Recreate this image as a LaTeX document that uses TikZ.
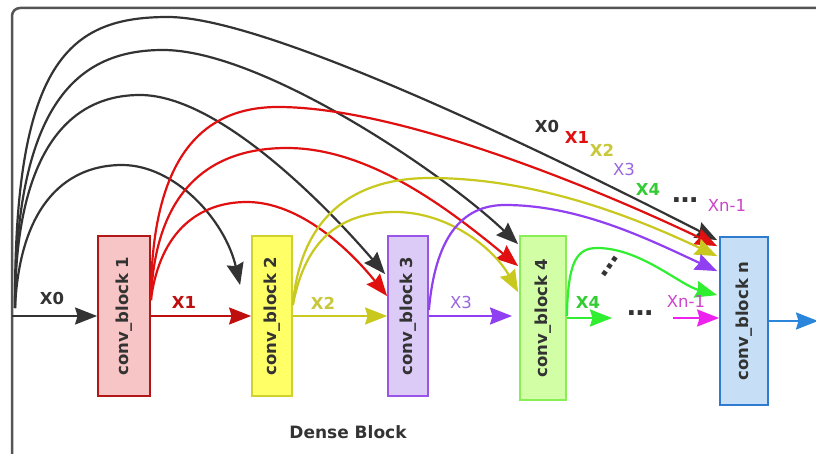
\documentclass[tikz,border=0pt]{standalone}
\usepackage{fontspec}
\setmainfont{DejaVu Sans}
\usetikzlibrary{arrows.meta}

% palette
\definecolor{ink}{HTML}{333333}
\definecolor{framegray}{HTML}{555555}
\definecolor{redln}{HTML}{E01010}
\definecolor{yelln}{HTML}{C8C81E}
\definecolor{purln}{HTML}{9040F0}
\definecolor{grnln}{HTML}{30EE30}
\definecolor{magln}{HTML}{EE22EE}
\definecolor{blueln}{HTML}{2A86DA}
\definecolor{fillA}{HTML}{F7C5C5}\definecolor{lineA}{HTML}{B01818}
\definecolor{fillB}{HTML}{FFFF66}\definecolor{lineB}{HTML}{D0D030}
\definecolor{fillC}{HTML}{DCCBF7}\definecolor{lineC}{HTML}{9955E8}
\definecolor{fillD}{HTML}{D2FFA6}\definecolor{lineD}{HTML}{88EE55}
\definecolor{fillE}{HTML}{C6DFF7}\definecolor{lineE}{HTML}{2E7BCF}
\definecolor{lblX2}{HTML}{C8C83A}
\definecolor{lblX3}{HTML}{9966E0}
\definecolor{lblX4}{HTML}{33CC33}
\definecolor{lblXn}{HTML}{CC44CC}

\begin{document}
\begin{tikzpicture}[x=1pt,y=-1pt,
  blockbox/.style={draw, line width=1.8pt, inner sep=0pt},
  blocktext/.style={rotate=90, text=ink, inner sep=0pt,
    font=\fontsize{16.5}{18}\selectfont\bfseries},
  lbl/.style={inner sep=0pt, font=\fontsize{16.5}{18}\selectfont\bfseries},
  lblthin/.style={inner sep=0pt, font=\fontsize{16.5}{18}\selectfont},
  dotsym/.style={inner sep=0pt, text=ink, font=\fontsize{26}{28}\selectfont\bfseries},
  arr/.style={line width=2.2pt, -{Stealth[length=22pt,width=17pt,inset=2.5pt]}},
  link/.style={line width=2.2pt, -{Stealth[length=22pt,width=17pt,inset=2.5pt]}}]

\useasboundingbox (0,0) rectangle (816,454);
\fill[white] (0,0) rectangle (816,454);

% outer frame (top and left edges)
\draw[framegray, line width=2.5pt, rounded corners=8pt] (820,8) -- (12,8) -- (12,460);

% blocks
\node[blockbox, draw=lineA, fill=fillA, minimum width=52pt, minimum height=160pt] (b1) at (124,316) {};
\node[blockbox, draw=lineB, fill=fillB, minimum width=40pt, minimum height=160pt] (b2) at (272,316) {};
\node[blockbox, draw=lineC, fill=fillC, minimum width=40pt, minimum height=160pt] (b3) at (408,316) {};
\node[blockbox, draw=lineD, fill=fillD, minimum width=46pt, minimum height=164pt] (b4) at (543,318) {};
\node[blockbox, draw=lineE, fill=fillE, minimum width=48pt, minimum height=168pt] (bn) at (744,321) {};

\node[blocktext] (t1) at (b1) {conv\_block 1};
\node[blocktext] (t2) at (b2) {conv\_block 2};
\node[blocktext] (t3) at (b3) {conv\_block 3};
\node[blocktext] (t4) at (b4) {conv\_block 4};
\node[blocktext] (tn) at (bn) {conv\_block n};

% junction points
\coordinate (s0) at (15,308);
\coordinate (x0in) at (12,316);
\coordinate (r0) at ([yshift=16pt]b1.east);
\coordinate (y0) at ([yshift=11pt]b2.east);
\coordinate (p0) at ([yshift=6pt]b3.east);
\coordinate (g0) at ([yshift=2pt]b4.east);
\coordinate (x3end) at (512,316);
\coordinate (x4end) at (612,318);
\coordinate (xn0) at (673,318);
\coordinate (out) at (818,321);

% X0 skip connections
\draw[link, ink] (s0) .. controls (14,60) and (70,17) .. (168,17)
  .. controls (270,17) and (560,160) .. ([xshift=-2pt,yshift=-4pt]bn.north west);
\draw[link, ink] (s0) .. controls (15,100) and (80,50) .. (163,50)
  .. controls (260,50) and (440,170) .. ([xshift=-1pt,yshift=-9pt]b4.north west);
\draw[link, ink] (s0) .. controls (15,150) and (70,95) .. (140,95)
  .. controls (220,95) and (330,210) .. ([xshift=-2pt,yshift=-39pt]b3.north west);
\draw[link, ink] (s0) .. controls (20,200) and (70,165) .. (122,165)
  .. controls (175,165) and (225,220) .. ([xshift=-11pt,yshift=-50pt]b2.north west);

% X1 skip connections
\draw[link, redln] (r0) .. controls (151,160) and (200,107) .. (278,107)
  .. controls (400,107) and (600,190) .. ([xshift=-2pt,yshift=-10pt]bn.north west);
\draw[link, redln] (r0) .. controls (155,190) and (210,148) .. (287,148)
  .. controls (370,148) and (450,210) .. ([xshift=-1pt,yshift=-31pt]b4.north west);
\draw[link, redln] (r0) .. controls (160,230) and (200,202) .. (247,202)
  .. controls (300,202) and (350,250) .. ([yshift=-61pt]b3.north west);

% X2 skip connections
\draw[link, yelln] (y0) .. controls (300,220) and (350,178) .. (430,178)
  .. controls (540,178) and (640,220) .. ([xshift=-2pt,yshift=-20pt]bn.north west);
\draw[link, yelln] (y0) .. controls (305,240) and (340,212) .. (395,212)
  .. controls (450,212) and (495,250) .. ([xshift=-1pt,yshift=-57pt]b4.north west);

% X3 and X4 skip connections
\draw[link, purln] (p0) .. controls (435,240) and (460,205) .. (505,205)
  .. controls (580,205) and (650,240) .. ([xshift=-2pt,yshift=-35pt]bn.north west);
\draw[link, grnln] (g0) .. controls (568,265) and (575,248) .. (597,248)
  .. controls (640,248) and (680,285) .. ([xshift=-2pt,yshift=-59pt]bn.north west);
\node[dotsym, rotate=55] (dg) at (610,266) {…};

% main chain
\draw[arr, ink] (x0in) -- (b1.west);
\draw[arr, redln!85!black] (b1.east) -- (b2.west);
\draw[arr, yelln] (b2.east) -- (b3.west);
\draw[arr, purln] (b3.east) -- (x3end);
\draw[arr, grnln] (b4.east) -- (x4end);
\node[dotsym] (dm) at (640,313) {…};
\draw[arr, magln] (xn0) -- (xn0 -| bn.west);
\draw[arr, blueln] (bn.east) -- (out);

% chain labels
\node[lbl, text=ink] (l0) at (52,298) {X0};
\node[lbl, text=redln!85!black] (l1) at (184,302) {X1};
\node[lbl, text=lblX2] (l2) at (323,303) {X2};
\node[lblthin, text=lblX3] (l3) at (461,302) {X3};
\node[lbl, text=lblX4] (l4) at (588,302) {X4};
\node[lblthin, text=lblXn] (ln) at (686,301) {Xn-1};

% inputs gathered by the last block
\node[lbl, text=ink] (k0) at (547,126) {X0};
\node[lbl, text=redln] (k1) at (577,137) {X1};
\node[lbl, text=lblX2] (k2) at (602,150) {X2};
\node[lblthin, text=lblX3] (k3) at (624,169) {X3};
\node[lbl, text=lblX4] (k4) at (648,189) {X4};
\node[dotsym] (kd) at (685,200) {…};
\node[lblthin, text=lblXn] (kn) at (727,205) {Xn-1};

\node[inner sep=0pt, text=ink, font=\fontsize{17}{19}\selectfont\bfseries] (title) at (348,432) {Dense Block};
\end{tikzpicture}
\end{document}
